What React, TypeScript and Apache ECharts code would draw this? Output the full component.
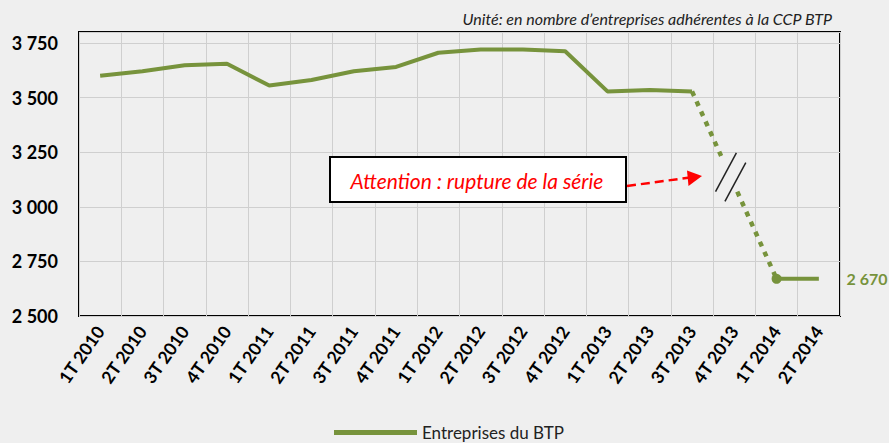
import React, { useEffect, useRef } from 'react';
import * as echarts from 'echarts';

const categories = [
  '1T 2010', '2T 2010', '3T 2010', '4T 2010',
  '1T 2011', '2T 2011', '3T 2011', '4T 2011',
  '1T 2012', '2T 2012', '3T 2012', '4T 2012',
  '1T 2013', '2T 2013', '3T 2013', '4T 2013',
  '1T 2014', '2T 2014',
];
const solidValues = [
  3600, 3620, 3648, 3655, 3555, 3580, 3620, 3640,
  3705, 3720, 3720, 3712, 3528, 3534, 3528, null, null, null,
];
const breakValues = [
  null, null, null, null, null, null, null, null,
  null, null, null, null, null, null, 3528, null, 2670, null,
];
const endValues = [
  null, null, null, null, null, null, null, null,
  null, null, null, null, null, null, null, null, 2670, 2670,
];
const yMin = 2500;
const yMax = 3800;
const yInterval = 250;

const seriesName = 'Entreprises du BTP';
const unitText = 'Unité: en nombre d\u2019entreprises adhérentes à la CCP BTP';
const noteText = 'Attention : rupture de la série';

const GREEN = '#77933c';
const BG = '#efefef';
const FONT = 'Lato, "Open Sans", sans-serif';

const fmt = (v: number) => String(v).replace(/\B(?=(\d{3})+(?!\d))/g, ' ');

export default function App() {
  const ref = useRef<HTMLDivElement>(null);
  useEffect(() => {
    if (!ref.current) return;
    const chart = echarts.init(ref.current, null, { renderer: 'svg' });
    const option: any = {
      animation: false,
      backgroundColor: BG,
      textStyle: { fontFamily: FONT },
      legend: {
        data: [{ name: seriesName, icon: 'rect' }],
        left: 329,
        top: 419,
        itemWidth: 83,
        itemHeight: 5,
        itemGap: 8,
        selectedMode: false,
        textStyle: { fontFamily: FONT, fontSize: 17, color: '#222' },
      },
      grid: {
        left: 79,
        top: 32,
        width: 761,
        height: 284,
        show: true,
        borderColor: '#000',
        borderWidth: 2,
        backgroundColor: 'transparent',
        containLabel: false,
      },
      xAxis: {
        type: 'category',
        data: categories,
        boundaryGap: true,
        axisLine: { show: false },
        axisTick: { show: false },
        splitLine: { show: true, interval: 0, lineStyle: { color: '#cfcfcf', width: 1 } },
        axisLabel: {
          interval: 0,
          rotate: 55,
          margin: 12,
          fontFamily: FONT,
          fontSize: 17.5,
          fontWeight: 'bold',
          color: '#000',
        },
      },
      yAxis: {
        type: 'value',
        min: yMin,
        max: yMax,
        interval: yInterval,
        axisLine: { show: false },
        axisTick: { show: false },
        splitLine: { show: true, lineStyle: { color: '#cfcfcf', width: 1 } },
        axisLabel: {
          margin: 21,
          showMaxLabel: false,
          fontFamily: FONT,
          fontSize: 18,
          fontWeight: 'bold',
          color: '#000',
          formatter: (v: number) => (v === yMax ? '' : fmt(v)),
        },
      },
      series: [
        {
          name: seriesName,
          type: 'line',
          data: solidValues,
          symbol: 'none',
          lineStyle: { color: GREEN, width: 4 },
          itemStyle: { color: GREEN },
          z: 3,
        },
        {
          name: 'rupture',
          type: 'line',
          data: breakValues,
          connectNulls: true,
          symbol: 'none',
          lineStyle: { color: GREEN, width: 4.5, type: [5, 6], cap: 'butt' },
          itemStyle: { color: GREEN },
          z: 2,
        },
        {
          name: 'fin',
          type: 'line',
          data: endValues,
          symbol: 'circle',
          symbolSize: (_v: any, p: any) => (p.dataIndex === 16 ? 10 : 0),
          showSymbol: true,
          lineStyle: { color: GREEN, width: 4 },
          itemStyle: { color: GREEN },
          label: {
            show: true,
            position: 'right',
            distance: 65,
            fontFamily: FONT,
            fontSize: 16,
            fontWeight: 'bold',
            color: GREEN,
            formatter: (p: any) => (p.dataIndex === 16 ? fmt(p.value) : ''),
          },
          z: 3,
        },
      ],
    };
    chart.setOption(option);

    const a = chart.convertToPixel({ gridIndex: 0 }, [14, breakValues[14]]) as number[];
    const b = chart.convertToPixel({ gridIndex: 0 }, [16, breakValues[16]]) as number[];
    const lerp = (t: number) => [a[0] + (b[0] - a[0]) * t, a[1] + (b[1] - a[1]) * t];
    const g0 = lerp(0.345);
    const g1 = lerp(0.53);
    const c = lerp(0.457);
    const u = [0.474, -0.88];
    const half = 22;
    const mark = (dx: number, dy: number) => ({
      type: 'line',
      z: 102,
      shape: {
        x1: c[0] + dx - u[0] * half,
        y1: c[1] + dy - u[1] * half,
        x2: c[0] + dx + u[0] * half,
        y2: c[1] + dy + u[1] * half,
      },
      style: { stroke: '#222', lineWidth: 1.5 },
    });

    chart.setOption({
      graphic: [
        {
          type: 'text',
          z: 100,
          x: 832,
          y: 18,
          style: {
            text: unitText,
            fill: '#222',
            font: 'italic 16px ' + FONT,
            align: 'right',
            verticalAlign: 'middle',
          },
        },
        {
          type: 'line',
          z: 101,
          shape: { x1: g0[0], y1: g0[1], x2: g1[0], y2: g1[1] },
          style: { stroke: BG, lineWidth: 9 },
        },
        mark(-4.7, -4.9),
        mark(4.7, 4.9),
        {
          type: 'rect',
          z: 100,
          shape: { x: 330, y: 157, width: 296, height: 45 },
          style: { fill: '#fff', stroke: '#000', lineWidth: 2 },
        },
        {
          type: 'text',
          z: 101,
          x: 477,
          y: 180,
          style: {
            text: noteText,
            fill: '#ff0000',
            font: 'italic 21px ' + FONT,
            align: 'center',
            verticalAlign: 'middle',
          },
        },
        {
          type: 'line',
          z: 100,
          shape: { x1: 627, y1: 186, x2: 690, y2: 177.5 },
          style: { stroke: '#ff0000', lineWidth: 2.5, lineDash: [9, 5] },
        },
        {
          type: 'polygon',
          z: 100,
          shape: { points: [[702, 176], [687, 170.5], [688.5, 186]] },
          style: { fill: '#ff0000' },
        },
      ],
    });

    return () => chart.dispose();
  }, []);
  return (
    <div
      ref={ref}
      style={{ position: 'absolute', left: 0, top: 0, width: 889, height: 443, background: BG }}
    />
  );
}
